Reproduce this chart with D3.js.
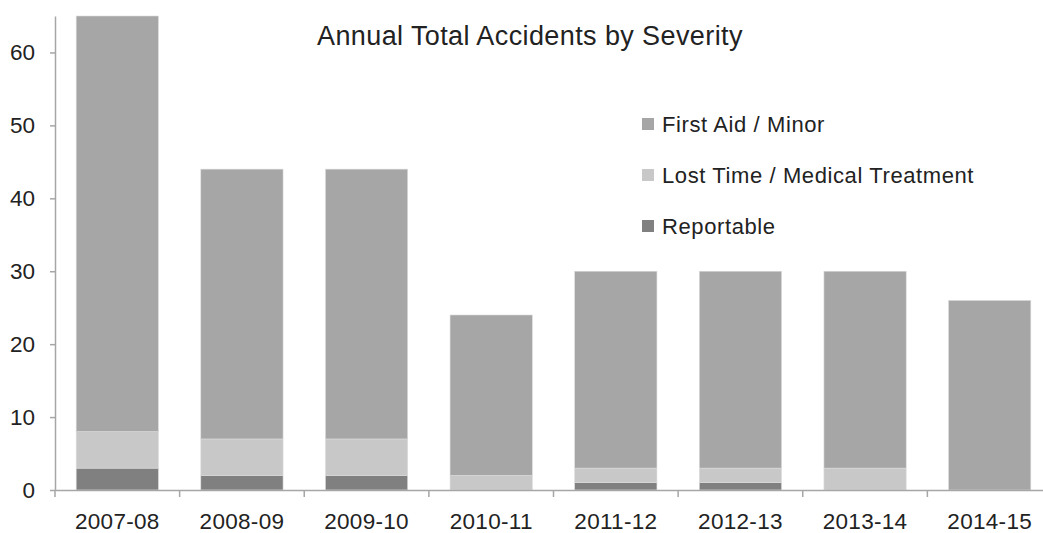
<!DOCTYPE html>
<html>
<head>
<meta charset="utf-8">
<script src="https://cdn.jsdelivr.net/npm/d3@7"></script>
<style>
  html, body { margin: 0; background: #fff; overflow: hidden; }
  svg { display: block; }
  text { font-family: 'Liberation Sans', Arial, sans-serif; fill: #222; }
</style>
</head>
<body>
<div id="chart"></div>
<script>
// 年度
const years = ['2007-08', '2008-09', '2009-10', '2010-11', '2011-12', '2012-13', '2013-14', '2014-15']
// 各类事故数量
const reportable = [3, 2, 2, 0, 1, 1, 0, 0]
const lostTime = [5, 5, 5, 2, 2, 2, 3, 0]
const firstAid = [57, 37, 37, 22, 27, 27, 27, 26]
// 系列（由下往上堆叠）
const seriesNames = ['Reportable', 'Lost Time / Medical Treatment', 'First Aid / Minor']
const seriesColors = ['#808080', '#c8c8c8', '#a6a6a6']
const yTicks = [0, 10, 20, 30, 40, 50, 60]

const width = 1043
const height = 533
const margin = { top: 16, right: -9, bottom: 43, left: 55 }

const svg = d3.select('#chart').append('svg')
  .attr('width', width)
  .attr('height', height)

const rows = years.map((y, i) => ({
  year: y,
  'Reportable': reportable[i],
  'Lost Time / Medical Treatment': lostTime[i],
  'First Aid / Minor': firstAid[i]
}))
const stacked = d3.stack().keys(seriesNames)(rows)

const x = d3.scaleBand()
  .domain(years)
  .range([margin.left, width - margin.right])
  .paddingInner(0.34)
  .paddingOuter(0.17)

const y = d3.scaleLinear()
  .domain([0, 65])
  .range([height - margin.bottom, margin.top])

const color = d3.scaleOrdinal().domain(seriesNames).range(seriesColors)

// 柱子
svg.append('g')
  .selectAll('g')
  .data(stacked)
  .join('g')
  .attr('fill', d => color(d.key))
  .selectAll('rect')
  .data(d => d)
  .join('rect')
  .attr('x', d => x(d.data.year))
  .attr('y', d => y(d[1]))
  .attr('width', x.bandwidth())
  .attr('height', d => y(d[0]) - y(d[1]))
  .attr('stroke', '#dcdcdc')
  .attr('stroke-width', 0.6)

// y 轴
const yAxis = svg.append('g')
  .attr('transform', `translate(${margin.left},0)`)
  .call(d3.axisLeft(y).tickValues(yTicks).tickSize(5).tickPadding(15).tickSizeOuter(0))
yAxis.select('.domain').attr('stroke', '#a6a6a6').attr('stroke-width', 1.5)
yAxis.selectAll('.tick line').attr('stroke', '#a6a6a6').attr('stroke-width', 1.5)
yAxis.selectAll('.tick text').style('font-size', '22.5px').attr('fill', '#222')

// x 轴
const step = x.step()
const xAxis = svg.append('g')
  .attr('transform', `translate(0,${y(0)})`)
  .call(d3.axisBottom(x).tickSize(0).tickPadding(23).tickSizeOuter(0))
xAxis.select('.domain').attr('stroke', '#a6a6a6').attr('stroke-width', 1.5)
xAxis.selectAll('.tick text').style('font-size', '22.5px').style('letter-spacing', '0.3px').attr('fill', '#222')
// 分类边界刻度
xAxis.selectAll('line.sep')
  .data(years)
  .join('line')
  .classed('sep', true)
  .attr('x1', d => x(d) - step * x.paddingInner() / 2)
  .attr('x2', d => x(d) - step * x.paddingInner() / 2)
  .attr('y1', 0)
  .attr('y2', 7)
  .attr('stroke', '#a6a6a6')
  .attr('stroke-width', 1.5)

// 标题
svg.append('text')
  .attr('x', 317)
  .attr('y', 45)
  .style('font-size', '27px')
  .style('letter-spacing', '0.4px')
  .text('Annual Total Accidents by Severity')

// 图例
const legendOrder = ['First Aid / Minor', 'Lost Time / Medical Treatment', 'Reportable']
const lg = svg.append('g')
  .selectAll('g')
  .data(legendOrder)
  .join('g')
  .attr('transform', (d, i) => `translate(642,${124 + i * 51})`)

lg.append('rect')
  .attr('x', 0)
  .attr('y', -6)
  .attr('width', 12)
  .attr('height', 12)
  .attr('fill', d => color(d))

lg.append('text')
  .attr('x', 20)
  .attr('dy', 8)
  .style('font-size', '22px')
  .style('letter-spacing', '0.6px')
  .text(d => d)
</script>
</body>
</html>
